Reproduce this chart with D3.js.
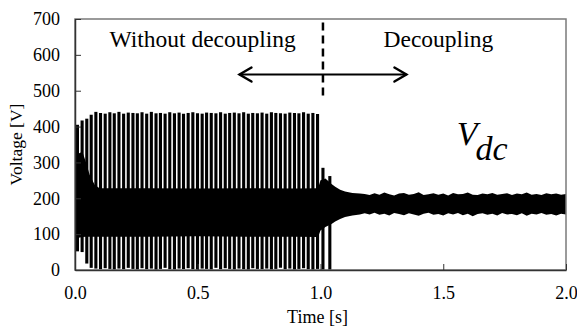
<!DOCTYPE html>
<html>
<head>
<meta charset="utf-8">
<script src="https://cdn.jsdelivr.net/npm/d3@7"></script>
<style>
  body { margin: 0; background: #fff; }
  svg { display: block; font-family: "Liberation Serif", "Times New Roman", serif; }
  .axis text { font-family: "Liberation Serif", "Times New Roman", serif; font-size: 18px; fill: #000; }
  .axis path, .axis line { stroke: #333; }
</style>
</head>
<body>
<div id="chart"></div>
<script>
// ---- data ----
const yTicks = [0, 100, 200, 300, 400, 500, 600, 700];
const xTicks = [0.0, 0.5, 1.0, 1.5, 2.0];

// oscillation spikes before decoupling (time [s], low [V], high [V])
const spikeTimes = [0.010,0.029,0.048,0.066,0.085,0.104,0.123,0.142,0.160,0.179,0.198,0.217,0.236,0.254,0.273,0.292,0.311,0.330,0.348,0.367,0.386,0.405,0.424,0.442,0.461,0.480,0.499,0.518,0.536,0.555,0.574,0.593,0.612,0.630,0.649,0.668,0.687,0.706,0.724,0.743,0.762,0.781,0.800,0.818,0.837,0.856,0.875,0.894,0.912,0.931,0.950,0.969,0.988,1.010,1.038];
const spikeHigh = [405,417,422,433,441,438,436,440,437,441,436,439,438,437,440,436,441,437,438,436,440,437,439,436,438,440,437,436,439,438,437,440,436,438,439,437,440,436,438,437,439,436,440,438,437,436,439,438,437,440,436,438,435,285,262];
const spikeLow = [52,50,18,6,4,2,5,3,1,4,2,6,3,1,5,2,4,0,3,6,2,1,4,3,5,2,0,4,3,1,6,2,5,3,1,4,2,0,5,3,2,4,1,3,6,2,4,1,3,5,2,0,3,0,0];

// dense band envelope (time [s], upper [V], lower [V])
const bandTimes = [0.000,0.005,0.015,0.030,0.045,0.060,0.080,0.100,0.300,0.500,0.700,0.900,0.990,1.000,1.020,1.045,1.060,1.080,1.100,1.130,1.160,
  1.18,1.20,1.22,1.24,1.26,1.28,1.30,1.32,1.34,1.36,1.38,1.40,1.42,1.44,1.46,1.48,1.50,1.52,1.54,1.56,1.58,1.60,1.62,1.64,1.66,1.68,1.70,1.72,1.74,1.76,1.78,1.80,1.82,1.84,1.86,1.88,1.90,1.92,1.94,1.96,1.98,2.00];
const bandTop = [272,290,325,330,300,265,238,228,228,227,228,227,228,250,255,240,232,224,219,215,213,
  212,209,214,210,216,211,208,213,215,210,212,217,209,211,214,210,213,208,215,211,212,216,210,209,213,211,215,210,212,214,209,213,211,216,210,212,209,214,211,213,210,212];
const bandBottom = [95,92,90,92,93,93,93,93,93,94,93,93,92,110,120,128,135,142,148,152,155,
  158,155,160,154,157,152,159,156,153,158,155,151,157,160,154,156,152,158,155,159,153,157,150,156,158,154,157,152,159,155,156,153,158,151,157,155,159,154,156,152,157,155];

const switchTime = 1.01;
const arrowFrom = 0.67, arrowTo = 1.35, arrowLevel = 545;

// ---- layout ----
const W = 577, H = 327;
const margin = { top: 19, right: 11, bottom: 57, left: 75 };
const iw = W - margin.left - margin.right;
const ih = H - margin.top - margin.bottom;

const svg = d3.select("#chart").append("svg")
  .attr("width", W).attr("height", H);

const g = svg.append("g")
  .attr("transform", `translate(${margin.left},${margin.top})`);

const x = d3.scaleLinear().domain([0, 2]).range([0, iw]);
const y = d3.scaleLinear().domain([0, 700]).range([ih, 0]);

g.append("clipPath").attr("id", "clip")
  .append("rect").attr("width", iw).attr("height", ih);

const plot = g.append("g").attr("clip-path", "url(#clip)");

// band
const band = bandTimes.map((t, i) => ({ t, top: bandTop[i], bot: bandBottom[i] }));
plot.append("path")
  .datum(band)
  .attr("fill", "#000")
  .attr("d", d3.area().x(d => x(d.t)).y0(d => y(d.bot)).y1(d => y(d.top)));

// spikes
plot.selectAll("line.spike")
  .data(spikeTimes.map((t, i) => ({ t, lo: spikeLow[i], hi: spikeHigh[i] })))
  .join("line")
  .attr("class", "spike")
  .attr("x1", d => x(d.t)).attr("x2", d => x(d.t))
  .attr("y1", d => y(d.lo)).attr("y2", d => y(d.hi))
  .attr("stroke", "#000")
  .attr("stroke-width", 3.1);

// frame
g.append("rect")
  .attr("width", iw).attr("height", ih)
  .attr("fill", "none")
  .attr("stroke", "#7a7a7a")
  .attr("stroke-width", 1.5);

// axes
g.append("g")
  .attr("class", "axis")
  .call(d3.axisLeft(y).tickValues(yTicks).tickFormat(d3.format("d"))
    .tickSizeInner(-6).tickSizeOuter(0).tickPadding(15));

g.append("g")
  .attr("class", "axis")
  .attr("transform", `translate(0,${ih})`)
  .call(d3.axisBottom(x).tickValues(xTicks).tickFormat(d3.format(".1f"))
    .tickSizeInner(-6).tickSizeOuter(0).tickPadding(16));

g.selectAll(".axis").attr("font-family", null).attr("font-size", null);
g.selectAll(".axis path.domain").attr("stroke-width", 1.5);

// axis titles
svg.append("text")
  .attr("x", margin.left + x(1.0) - 3)
  .attr("y", 323)
  .attr("text-anchor", "middle")
  .style("font-size", "18px")
  .text("Time [s]");

svg.append("text")
  .attr("transform", `translate(22,${margin.top + y(350)}) rotate(-90)`)
  .attr("text-anchor", "middle")
  .style("font-size", "17.5px")
  .text("Voltage [V]");

// switch marker
g.append("line")
  .attr("x1", x(switchTime)).attr("x2", x(switchTime))
  .attr("y1", y(690)).attr("y2", y(485))
  .attr("stroke", "#000")
  .attr("stroke-width", 2.5)
  .attr("stroke-dasharray", "8,5");

// double arrow
const ay = y(arrowLevel);
g.append("line")
  .attr("x1", x(arrowFrom)).attr("x2", x(arrowTo))
  .attr("y1", ay).attr("y2", ay)
  .attr("stroke", "#000").attr("stroke-width", 2);
[[arrowFrom, 1], [arrowTo, -1]].forEach(([t, dir]) => {
  const ax = x(t);
  g.append("path")
    .attr("d", `M${ax + dir * 12},${ay - 7}L${ax},${ay}L${ax + dir * 12},${ay + 7}`)
    .attr("fill", "none").attr("stroke", "#000")
    .attr("stroke-width", 2.4).attr("stroke-linecap", "round");
});

// annotations
g.append("text")
  .attr("x", x(0.52)).attr("y", y(622))
  .attr("text-anchor", "middle")
  .style("font-size", "23.5px")
  .text("Without decoupling");

g.append("text")
  .attr("x", x(1.48)).attr("y", y(622))
  .attr("text-anchor", "middle")
  .style("font-size", "23.5px")
  .text("Decoupling");

const vdc = g.append("text")
  .attr("x", x(1.555)).attr("y", y(350))
  .style("font-size", "34px")
  .style("font-style", "italic");
vdc.append("tspan").text("V");
vdc.append("tspan").attr("dy", 15).attr("dx", -2).text("dc");
</script>
</body>
</html>
